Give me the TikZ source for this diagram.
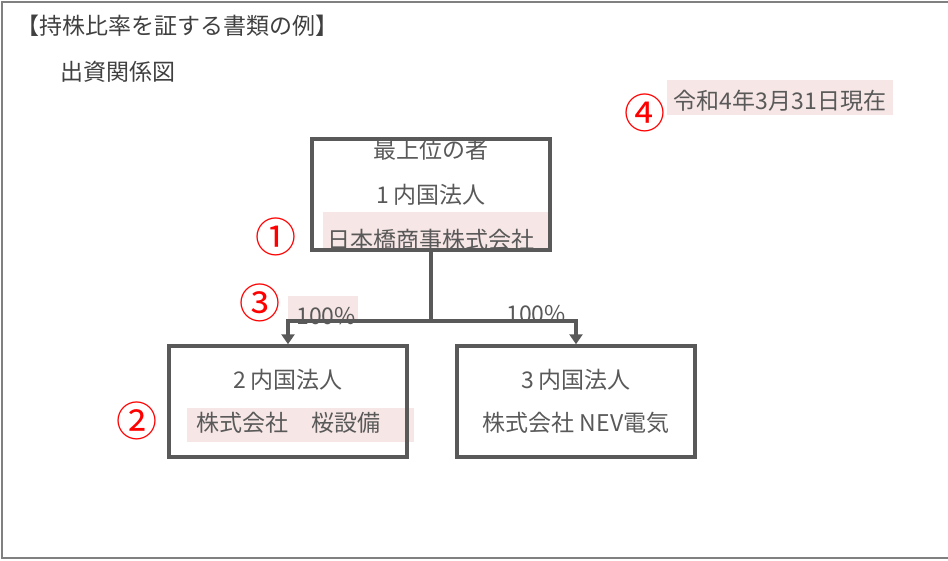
\documentclass[tikz,border=0pt]{standalone}
\usepackage{fontspec}
\setmainfont{Noto Sans CJK JP}
\usetikzlibrary{arrows.meta}

\definecolor{inkgray}{HTML}{595959}
\definecolor{framegray}{HTML}{808080}
\definecolor{hlpink}{HTML}{F7E6E6}

\tikzset{
  entity/.style={draw=inkgray, line width=3.5pt, minimum width=238pt, minimum height=111pt, inner sep=0pt},
  txt/.style={text=inkgray, inner sep=0pt, font=\fontsize{23}{26}\selectfont},
  hilite/.style={fill=hlpink, inner sep=0pt},
  callout/.style={text=red, inner sep=0pt, font=\fontsize{41}{44}\selectfont},
  conn/.style={draw=inkgray, line width=3.5pt}
}

\begin{document}
\begin{tikzpicture}[x=1pt,y=-1pt,>={Triangle[width=13pt,length=10pt]}]
\useasboundingbox (0,0) rectangle (948,560);

% frame and headings
\draw[framegray, line width=2pt] (948,2) -- (2,2) -- (2,558) -- (948,558);
\node[txt, anchor=west, text=black!75] (title) at (16,26) {【持株比率を証する書類の例】};
\node[txt, anchor=west, text=black!75] (chart) at (60,72) {出資関係図};

% date
\node[hilite, minimum width=226pt, minimum height=35pt] (hl4) at (780,97.5) {};
\node[txt] (date) at (780,101) {令和4年3月31日現在};
\node[callout] (c4) at (645,113) {④};

% highlights
\node[hilite, minimum width=227pt, minimum height=38pt] (hl1) at (436.5,231) {};
\node[hilite, minimum width=227pt, minimum height=34pt] (hl2) at (300.5,425) {};
\node[hilite, minimum width=70pt, minimum height=26pt] (hl3) at (323,309) {};

% top company
\node[txt] (top1) at (431,150) {最上位の者};
\node[txt] (top2) at (431,195) {1 内国法人};
\node[txt] (top3) at (431,240) {日本橋商事株式会社};
\node[entity] (top) at (431,194.5) {};
\node[callout] (c1) at (276,237) {①};

% subsidiaries
\node[entity] (sub1) at (288,401.5) {};
\node[txt] (sub1a) at (288,380) {2 内国法人};
\node[txt] (sub1b) at (288,423) {株式会社　桜設備};
\node[callout] (c2) at (137,421) {②};

\node[entity] (sub2) at (576,401.5) {};
\node[txt] (sub2a) at (576,380) {3 内国法人};
\node[txt] (sub2b) at (576,423) {株式会社 NEV電気};

% ownership lines
\node[txt] (pct1) at (326,316) {100\%};
\node[txt] (pct2) at (536,314) {100\%};
\node[callout] (c3) at (260,303) {③};
\coordinate (split) at (431,321);
\draw[conn] (top.south) -- (split);
\draw[conn,->] (split) -| (sub1.north);
\draw[conn,->] (split) -| (sub2.north);

\end{tikzpicture}
\end{document}
